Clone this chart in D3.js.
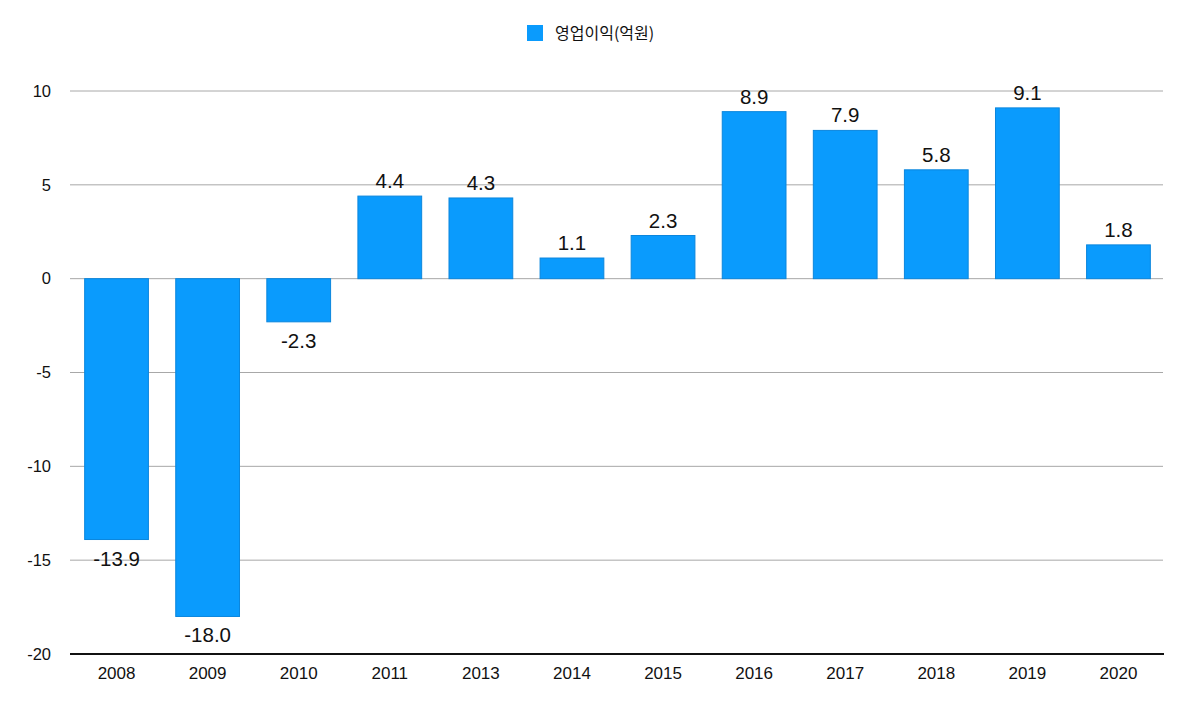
<!DOCTYPE html>
<html><head><meta charset="utf-8">
<script src="https://cdn.jsdelivr.net/npm/d3@7"></script>
<style>body{margin:0;background:#fff;} text{font-family:"Noto Sans CJK KR","Liberation Sans",sans-serif;}</style>
</head><body>
<svg id="c" width="1200" height="721"></svg>
<script>
const categories = ["2008","2009","2010","2011","2013","2014","2015","2016","2017","2018","2019","2020"];
const values = [-13.9,-18.0,-2.3,4.4,4.3,1.1,2.3,8.9,7.9,5.8,9.1,1.8];
const yTicks = [10,5,0,-5,-10,-15,-20];
const seriesName = "영업이익(억원)";

const svg = d3.select("#c");
const x = d3.scaleBand().domain(categories).range([71,1164]).paddingInner(0.3).paddingOuter(0.15);
const y = d3.scaleLinear().domain([-20,10]).range([654,91]);
const font = '"Liberation Sans",Arial,sans-serif';

svg.append("g").selectAll("line").data(yTicks.filter(d=>d!==-20)).join("line")
  .attr("x1",70).attr("x2",1163).attr("y1",d=>y(d)).attr("y2",d=>y(d))
  .attr("stroke","#a8a8a8").attr("stroke-width",1);

svg.append("g").selectAll("text").data(yTicks).join("text")
  .attr("x",51).attr("y",d=>y(d)).attr("dy","0.35em").attr("text-anchor","end")
  .style("font-family",font).style("font-size","16.5px").attr("fill","#111").text(d=>d);

svg.append("g").selectAll("rect").data(values).join("rect")
  .attr("x",(d,i)=>x(categories[i])).attr("width",x.bandwidth())
  .attr("y",d=>y(Math.max(0,d))).attr("height",d=>Math.abs(y(d)-y(0)))
  .attr("fill","#0a9bfd").attr("stroke","#0b86dd").attr("stroke-width",1);

svg.append("g").selectAll("text").data(values).join("text")
  .attr("x",(d,i)=>x(categories[i])+x.bandwidth()/2)
  .attr("y",d=>d>=0 ? y(d)-8 : y(d)+26)
  .attr("text-anchor","middle").style("font-family",font).style("font-size","20.5px").attr("fill","#111")
  .text(d=>d.toFixed(1));

svg.append("line").attr("x1",70).attr("x2",1164).attr("y1",654).attr("y2",654).attr("stroke","#111").attr("stroke-width",2);
svg.append("g").selectAll("text").data(categories).join("text")
  .attr("x",d=>x(d)+x.bandwidth()/2).attr("y",679).attr("text-anchor","middle")
  .style("font-family",font).style("font-size","17px").attr("fill","#111").text(d=>d);

svg.append("rect").attr("x",527).attr("y",25).attr("width",16).attr("height",16).attr("fill","#0a9bfd");
svg.append("text").attr("x",555).attr("y",33).attr("dy","0.35em").style("font-size","16px").attr("fill","#111").text(seriesName);
</script>
</body></html>
